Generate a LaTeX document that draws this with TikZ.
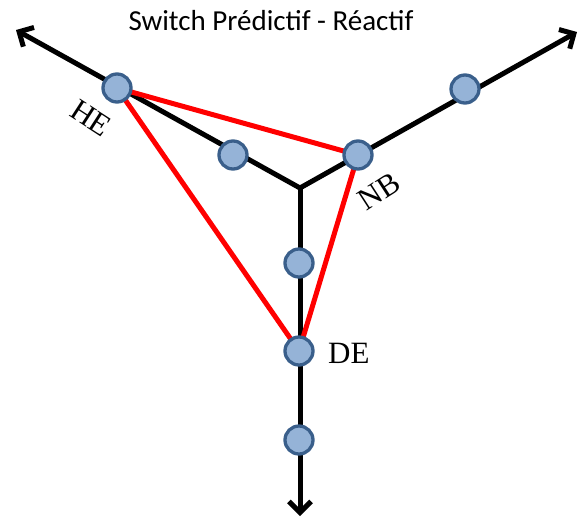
\documentclass[tikz,border=0pt]{standalone}
\usepackage{fontspec}
\setmainfont{Liberation Serif}
\newfontfamily\titlefont{Carlito}
\usetikzlibrary{arrows.meta}
\definecolor{dotfill}{HTML}{95B3D7}
\definecolor{dotedge}{HTML}{3A5F8B}
\definecolor{linkred}{HTML}{FF0000}
\begin{document}
\begin{tikzpicture}[x=1pt,y=-1pt,
  axis/.style={line width=5pt,-{Straight Barb[length=11pt,width=22pt,line width=5pt]}},
  link/.style={line width=5pt,draw=linkred},
  dot/.style={circle,fill=dotfill,draw=dotedge,line width=3.3pt,minimum size=28pt,inner sep=0pt},
  lbl/.style={font=\fontsize{31}{31}\selectfont,inner sep=0pt}]
\useasboundingbox (0,0) rectangle (580,520);
\coordinate (o) at (300,188);
\coordinate (tl) at (16,30);
\coordinate (tr) at (577,32);
\coordinate (bt) at (300,516);
\draw[axis] (o) -- (tl);
\draw[axis] (o) -- (tr);
\draw[axis] (o) -- (bt);
\node[dot] (a1) at (233,155) {};
\node[dot] (a2) at (465,89) {};
\node[dot] (a3) at (299,263) {};
\node[dot] (a4) at (299,440) {};
\coordinate (hec) at (117,88);
\coordinate (nbc) at (358,155);
\coordinate (dec) at (299,351);
\draw[link] (hec) -- (nbc);
\draw[link] (hec) -- (dec);
\draw[link] (nbc) -- (dec);
\node[dot] (he) at (hec) {};
\node[dot] (nb) at (nbc) {};
\node[dot] (de) at (dec) {};
\node[lbl,rotate=-33] (hel) at (91,118) {HE};
\node[lbl,rotate=33] (nbl) at (379,191) {NB};
\node[lbl,anchor=west] (del) at (328,353) {DE};
\node[font=\titlefont\fontsize{29}{29}\selectfont,inner sep=0pt] (title) at (271,21) {Switch Prédictif - Réactif};
\end{tikzpicture}
\end{document}
